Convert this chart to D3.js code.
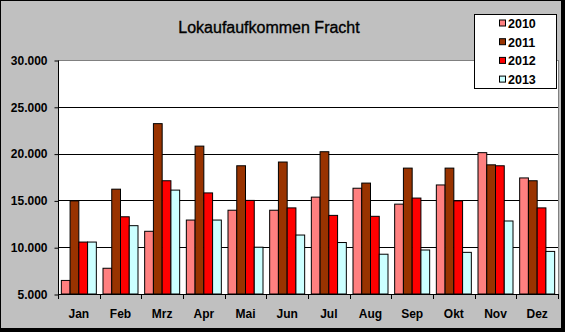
<!DOCTYPE html>
<html>
<head>
<meta charset="utf-8">
<script src="https://cdn.jsdelivr.net/npm/d3@7"></script>
<style>
  html, body { margin: 0; padding: 0; background: #fff; }
  svg { display: block; }
  text { font-family: Arial, "Liberation Sans", sans-serif; }
</style>
</head>
<body>
<svg id="chart" width="565" height="332"></svg>
<script>
// Monthly freight volumes per year
const months = ["Jan", "Feb", "Mrz", "Apr", "Mai", "Jun", "Jul", "Aug", "Sep", "Okt", "Nov", "Dez"];
const years = ["2010", "2011", "2012", "2013"];
const values2010 = [6450, 7750, 11700, 12900, 13950, 13950, 15350, 16300, 14600, 16650, 20100, 17400];
const values2011 = [14950, 16200, 23200, 20800, 18700, 19100, 20200, 16850, 18450, 18450, 18800, 17100];
const values2012 = [10550, 13250, 17100, 15800, 15000, 14200, 13400, 13300, 15250, 14950, 18700, 14200];
const values2013 = [10550, 12300, 16100, 12900, 10000, 11300, 10500, 9250, 9700, 9450, 12800, 9550];
const yTicks = [5000, 10000, 15000, 20000, 25000, 30000];
const colors = ["#FF8080", "#993300", "#FF0000", "#CCFFFF"];
const title = "Lokaufaufkommen Fracht";

const series = [values2010, values2011, values2012, values2013];

const svg = d3.select("#chart");
const W = 565, H = 332;
const plot = { left: 58, right: 558, top: 60, bottom: 294 };

// chart background with a drop-shadow style frame
svg.append("rect").attr("x", 0).attr("y", 0).attr("width", W).attr("height", H).attr("fill", "#000");
svg.append("rect").attr("x", 1).attr("y", 1).attr("width", W - 5).attr("height", H - 5).attr("fill", "#C0C0C0");

const locale = d3.formatLocale({ decimal: ",", thousands: ".", grouping: [3], currency: ["", " €"] });
const fmt = locale.format(",.0f");

const x = d3.scaleBand().domain(months).range([plot.left, plot.right]).paddingInner(0.16).paddingOuter(0.08);
const xs = d3.scaleBand().domain(years).range([0, x.bandwidth()]).padding(0);
const y = d3.scaleLinear().domain([5000, 30000]).range([plot.bottom, plot.top]);

// plot area
svg.append("rect")
  .attr("x", plot.left).attr("y", plot.top)
  .attr("width", plot.right - plot.left).attr("height", plot.bottom - plot.top)
  .attr("fill", "#fff").attr("stroke", "#808080").attr("stroke-width", 1)
  .attr("shape-rendering", "crispEdges");

// horizontal gridlines
svg.append("g").selectAll("line")
  .data(yTicks.filter(t => t > 5000 && t < 30000))
  .join("line")
  .attr("x1", plot.left).attr("x2", plot.right)
  .attr("y1", d => Math.round(y(d)) + 0.5).attr("y2", d => Math.round(y(d)) + 0.5)
  .attr("stroke", "#000").attr("stroke-width", 1);

// bars
const groups = svg.append("g").selectAll("g")
  .data(months)
  .join("g")
  .attr("transform", d => `translate(${x(d)},0)`);

groups.selectAll("rect")
  .data((m, i) => years.map((yr, k) => ({ yr, k, v: series[k][i] })))
  .join("rect")
  .attr("x", d => xs(d.yr))
  .attr("y", d => y(d.v))
  .attr("width", xs.bandwidth())
  .attr("height", d => y(5000) - y(d.v))
  .attr("fill", d => colors[d.k])
  .attr("stroke", "#000").attr("stroke-width", 1);

// y axis
const yAxis = d3.axisLeft(y).tickValues(yTicks).tickSize(4).tickPadding(7).tickFormat(fmt);
const gy = svg.append("g").attr("transform", `translate(${plot.left + 0.5},0.5)`).call(yAxis);
gy.select(".domain").attr("stroke", "#000").attr("d", `M0,${plot.top}V${plot.bottom}`);
gy.selectAll(".tick line").attr("stroke", "#000");
gy.selectAll(".tick text")
  .attr("font-size", 12).attr("font-weight", "bold").attr("fill", "#000")
  .attr("font-family", "Arial, 'Liberation Sans', sans-serif");

// x axis: ticks at category boundaries, labels centred in each slot
const step = x.step();
const boundaries = d3.range(months.length + 1).map(i => plot.left + i * step);
const gx = svg.append("g");
gx.append("line")
  .attr("x1", plot.left).attr("x2", plot.right)
  .attr("y1", plot.bottom + 0.5).attr("y2", plot.bottom + 0.5)
  .attr("stroke", "#000");
gx.selectAll("line.tk").data(boundaries).join("line").attr("class", "tk")
  .attr("x1", d => Math.round(d) + 0.5).attr("x2", d => Math.round(d) + 0.5)
  .attr("y1", plot.bottom).attr("y2", plot.bottom + 5)
  .attr("stroke", "#000");
gx.selectAll("text").data(months).join("text")
  .attr("x", d => x(d) + x.bandwidth() / 2)
  .attr("y", 318)
  .attr("text-anchor", "middle")
  .attr("font-size", 12).attr("font-weight", "bold")
  .text(d => d);

// title
svg.append("text")
  .attr("x", 269).attr("y", 33)
  .attr("text-anchor", "middle")
  .attr("font-size", 16)
  .attr("fill", "#000").attr("stroke", "#000").attr("stroke-width", 0.35)
  .text(title);

// legend
const lg = svg.append("g");
lg.append("rect")
  .attr("x", 474.5).attr("y", 14.5).attr("width", 82).attr("height", 74)
  .attr("fill", "#fff").attr("stroke", "#000");
const rows = lg.selectAll("g.row").data(years).join("g").attr("class", "row")
  .attr("transform", (d, i) => `translate(0,${23.5 + i * 18.7})`);
rows.append("rect")
  .attr("x", 499.5).attr("y", -3.5).attr("width", 6).attr("height", 6)
  .attr("fill", (d, i) => colors[i]).attr("stroke", "#000");
rows.append("text")
  .attr("x", 508).attr("y", 4.5)
  .attr("font-size", 12.5).attr("font-weight", "bold")
  .text(d => d);
</script>
</body>
</html>
